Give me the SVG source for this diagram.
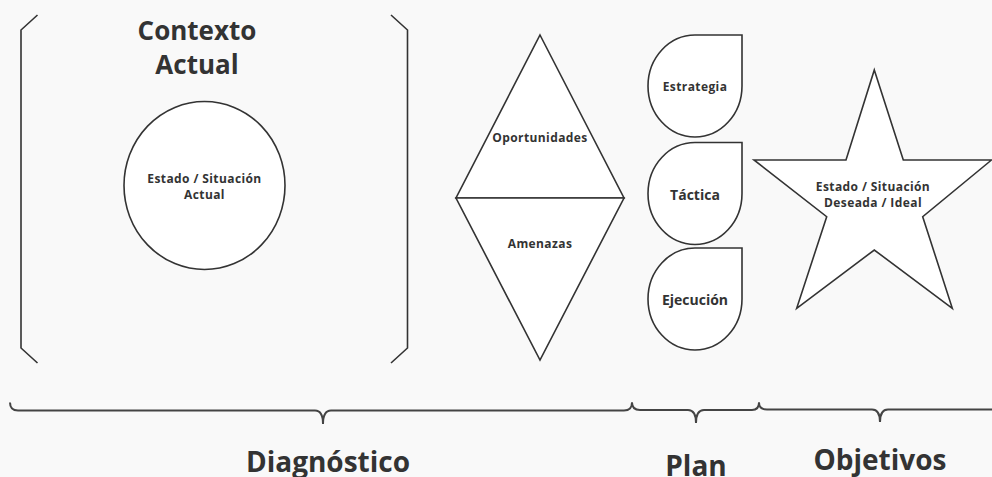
<svg xmlns="http://www.w3.org/2000/svg" width="992" height="477" viewBox="0 0 992 477">
<style>
.s{fill:#ffffff;stroke:#333333;stroke-width:1.6;stroke-linejoin:miter}
.ln{fill:none;stroke:#333333;stroke-width:1.6}
.br{fill:none;stroke:#444444;stroke-width:2}
text{font-family:"Open Sans","DejaVu Sans",sans-serif;font-weight:bold;fill:#333333;text-anchor:middle}
.t11{font-size:12px;letter-spacing:0.4px}
.t13{font-size:14px}
.big{font-size:26px}
.lab{font-size:28px}
</style>
<rect x="0" y="0" width="992" height="477" fill="#f9f9f9"/>
<g id="contexto">
<path class="ln" d="M37.5,15 L21,30 L21,348 L37.5,363"/>
<path class="ln" d="M391,15 L407.5,30 L407.5,348 L391,363"/>
<text class="big" x="197" y="40">Contexto</text>
<text class="big" x="197" y="74">Actual</text>
</g>
<g id="estado-actual">
<ellipse class="s" cx="204.5" cy="185.5" rx="80.5" ry="84"/>
<text class="t11" x="204.5" y="182.5">Estado / Situación</text>
<text class="t11" x="204.5" y="198.5">Actual</text>
</g>
<g id="oportunidades">
<polygon class="s" points="540,35 624,198 456,198"/>
<text class="t11" x="540" y="141.5">Oportunidades</text>
</g>
<g id="amenazas">
<polygon class="s" points="456,198 624,198 540,360"/>
<text class="t11" x="540" y="248">Amenazas</text>
</g>
<g id="estrategia">
<path class="s" d="M742,35 L742,86 A47,51 0 0 1 695,137 A47,51 0 0 1 648,86 A47,51 0 0 1 695,35 Z"/>
<text class="t11" x="695" y="91">Estrategia</text>
</g>
<g id="tactica">
<path class="s" d="M742,142.5 L742,193.5 A47,51 0 0 1 695,244.5 A47,51 0 0 1 648,193.5 A47,51 0 0 1 695,142.5 Z"/>
<text class="t13" x="695" y="200">Táctica</text>
</g>
<g id="ejecucion">
<path class="s" d="M742,248 L742,299 A47,51 0 0 1 695,350 A47,51 0 0 1 648,299 A47,51 0 0 1 695,248 Z"/>
<text class="t13" x="695" y="305">Ejecución</text>
</g>
<g id="estado-deseado">
<polygon class="s" points="874.3,70 903.3,160 991.5,160 922.7,216.7 952.3,308.3 874.3,250 796.7,308.3 826.7,216.7 754,160 846,160"/>
<text class="t11" x="873" y="190.5">Estado / Situación</text>
<text class="t11" x="873" y="206.5">Deseada / Ideal</text>
</g>
<g id="braces">
<path class="br" d="M10,402.5 Q10,410.5 18,410.5 L315,410.5 Q323,410.5 323,424 Q323,410.5 331,410.5 L624,410.5 Q632,410.5 632,402.5"/>
<path class="br" d="M632,402.5 Q632,410 640,410 L688,410 Q696,410 696,423 Q696,410 704,410 L752,410 Q759,410 759,402.5"/>
<path class="br" d="M759,402.5 Q759,409.5 767,409.5 L872,409.5 Q880,409.5 880,422 Q880,409.5 888,409.5 L992,409.5"/>
</g>
<g id="labels">
<text class="lab" x="328" y="472">Diagnóstico</text>
<text class="lab" x="696" y="476">Plan</text>
<text class="lab" x="880" y="470">Objetivos</text>
</g>
</svg>
